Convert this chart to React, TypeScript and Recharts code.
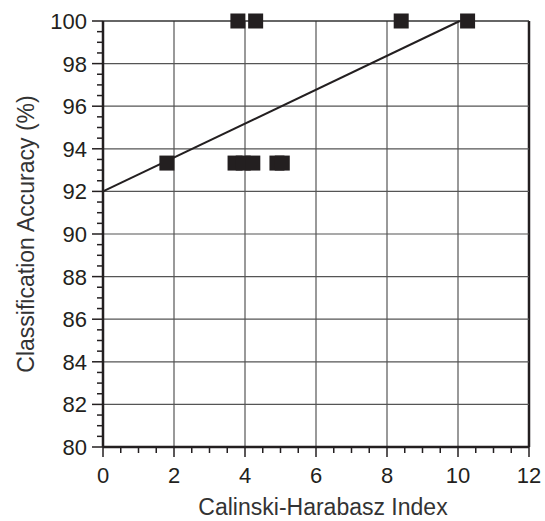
import React from "react";
import {
  ScatterChart,
  Scatter,
  XAxis,
  YAxis,
  ReferenceLine,
} from "recharts";

// Calinski-Harabasz index vs classification accuracy
const chIndex = [1.8, 3.8, 4.3, 8.4, 10.27, 3.72, 3.95, 4.22, 4.9, 5.05];
const accuracy = [93.33, 100, 100, 100, 100, 93.33, 93.33, 93.33, 93.33, 93.33];

// fitted trend line end points
const fitX = [0, 10.05];
const fitY = [92, 100];

const xTicks = [0, 2, 4, 6, 8, 10, 12];
const xMinorTicks = [
  0, 0.5, 1, 1.5, 2, 2.5, 3, 3.5, 4, 4.5, 5, 5.5, 6, 6.5, 7, 7.5, 8, 8.5, 9,
  9.5, 10, 10.5, 11, 11.5, 12,
];
const yTicks = [80, 82, 84, 86, 88, 90, 92, 94, 96, 98, 100];
const yMinorTicks = [
  80, 80.5, 81, 81.5, 82, 82.5, 83, 83.5, 84, 84.5, 85, 85.5, 86, 86.5, 87,
  87.5, 88, 88.5, 89, 89.5, 90, 90.5, 91, 91.5, 92, 92.5, 93, 93.5, 94, 94.5,
  95, 95.5, 96, 96.5, 97, 97.5, 98, 98.5, 99, 99.5, 100,
];

const points = chIndex.map((x, i) => ({ x, y: accuracy[i] }));
const fitSegment = fitX.map((x, i) => ({ x, y: fitY[i] }));

const INK = "#231f20";
const FONT = '"Liberation Sans", Arial, Helvetica, sans-serif';

const XTick = (props: any) => {
  const { x, y, payload } = props;
  const major = xTicks.includes(payload.value);
  return (
    <g>
      <line x1={x} x2={x} y1={y} y2={y + (major ? 10 : 6)} stroke={INK} strokeWidth={1.5} />
      {major && (
        <text x={x} y={y + 36} textAnchor="middle" fontSize={22} fill={INK} fontFamily={FONT}>
          {payload.value}
        </text>
      )}
    </g>
  );
};

const YTick = (props: any) => {
  const { x, y, payload } = props;
  const major = yTicks.includes(payload.value);
  return (
    <g>
      <line x1={x - (major ? 11 : 6)} x2={x} y1={y} y2={y} stroke={INK} strokeWidth={1.5} />
      {major && (
        <text x={x - 16} y={y} dy="0.36em" textAnchor="end" fontSize={22} fill={INK} fontFamily={FONT}>
          {payload.value}
        </text>
      )}
    </g>
  );
};

const Square = (props: any) => {
  const { cx, cy } = props;
  return <rect x={cx - 7.5} y={cy - 7.5} width={15} height={15} fill={INK} />;
};

export default function App() {
  return (
    <div style={{ position: "absolute", left: 0, top: 0, background: "#fff" }}>
      <ScatterChart
        width={545}
        height={521}
        margin={{ top: 21, right: 16, left: 0, bottom: 0 }}
      >
        <XAxis
          type="number"
          dataKey="x"
          domain={[0, 12]}
          ticks={xMinorTicks}
          interval={0}
          height={74}
          tickSize={0}
          tickMargin={0}
          tickLine={false}
          tick={<XTick />}
          axisLine={{ stroke: INK, strokeWidth: 2.5 }}
          label={{
            value: "Calinski-Harabasz Index",
            position: "insideBottom",
            offset: 6,
            dx: 7,
            fontSize: 23,
            fill: "#333",
            fontFamily: FONT,
          }}
        />
        <YAxis
          type="number"
          dataKey="y"
          domain={[80, 100]}
          ticks={yMinorTicks}
          interval={0}
          width={103}
          tickSize={0}
          tickMargin={0}
          tickLine={false}
          tick={<YTick />}
          axisLine={{ stroke: INK, strokeWidth: 2.5 }}
          label={{
            value: "Classification Accuracy (%)",
            angle: -90,
            position: "insideLeft",
            offset: 26,
            fontSize: 23,
            fill: "#333",
            fontFamily: FONT,
            style: { textAnchor: "middle" },
          }}
        />
        {xTicks.slice(1).map((v) => (
          <ReferenceLine
            key={"gx" + v}
            x={v}
            stroke={v === 12 ? INK : "#555"}
            strokeWidth={v === 12 ? 2.5 : 1.2}
          />
        ))}
        {yTicks.slice(1).map((v) => (
          <ReferenceLine
            key={"gy" + v}
            y={v}
            stroke={v === 100 ? "#333" : "#555"}
            strokeWidth={v === 100 ? 1.5 : 1.2}
          />
        ))}
        <ReferenceLine
          segment={fitSegment}
          stroke={INK}
          strokeWidth={2}
        />
        <Scatter
          data={points}
          shape={<Square />}
          isAnimationActive={false}
        />
      </ScatterChart>
    </div>
  );
}
